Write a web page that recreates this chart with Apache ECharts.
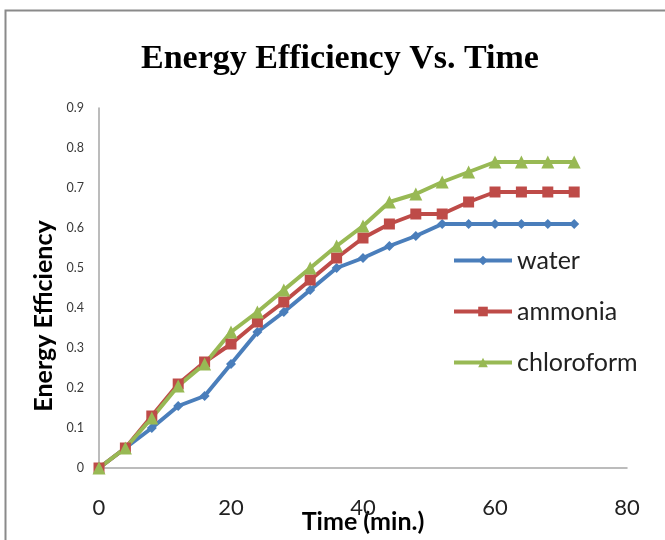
<!DOCTYPE html>
<html>
<head>
<meta charset="utf-8">
<script src="https://cdn.jsdelivr.net/npm/echarts@6/dist/echarts.min.js"></script>
<style>
  html, body { margin: 0; padding: 0; background: #fff; }
  #chart { width: 665px; height: 540px; }
</style>
</head>
<body>
<div id="chart"></div>
<script>
// Sampling times (minutes)
const times = [0, 4, 8, 12, 16, 20, 24, 28, 32, 36, 40, 44, 48, 52, 56, 60, 64, 68, 72];

// Energy efficiency per fluid
const water      = [0, 0.05, 0.10, 0.155, 0.18, 0.26, 0.34, 0.39, 0.445, 0.50, 0.525, 0.555, 0.58, 0.61, 0.61, 0.61, 0.61, 0.61, 0.61];
const ammonia    = [0, 0.05, 0.13, 0.21, 0.265, 0.31, 0.365, 0.415, 0.47, 0.525, 0.575, 0.61, 0.635, 0.635, 0.665, 0.69, 0.69, 0.69, 0.69];
const chloroform = [0, 0.05, 0.125, 0.205, 0.26, 0.34, 0.39, 0.445, 0.50, 0.555, 0.605, 0.665, 0.685, 0.715, 0.74, 0.765, 0.765, 0.765, 0.765];

// Axis tick labels
const xTickLabels = ['0', '20', '40', '60', '80'];
const yTickLabels = ['0', '0.1', '0.2', '0.3', '0.4', '0.5', '0.6', '0.7', '0.8', '0.9'];

const pairs = vals => times.map((t, i) => [t, vals[i]]);

const chart = echarts.init(document.getElementById('chart'), null, { renderer: 'canvas' });

function makeSeries(name, vals, color, symbol, size) {
  return {
    name: name,
    type: 'line',
    data: pairs(vals),
    symbol: symbol,
    symbolSize: size,
    showSymbol: true,
    lineStyle: { color: color, width: 4 },
    itemStyle: { color: color },
    emphasis: { disabled: true },
    animation: false
  };
}

chart.setOption({
  animation: false,
  backgroundColor: '#ffffff',
  graphic: [{
    type: 'rect',
    shape: { x: 5.5, y: 10.5, width: 700, height: 600 },
    style: { fill: 'none', stroke: '#8a8a8a', lineWidth: 2 },
    silent: true,
    z: -1
  }],
  title: {
    text: 'Energy Efficiency Vs. Time',
    left: 136,
    top: 37,
    textStyle: {
      fontFamily: 'Liberation Serif',
      fontWeight: 'bold',
      fontSize: 34,
      color: '#000'
    }
  },
  legend: {
    orient: 'vertical',
    left: 447,
    top: 243,
    itemWidth: 58,
    itemHeight: 12,
    itemGap: 26,
    lineStyle: { width: 4 },
    textStyle: { fontFamily: 'Lato', fontSize: 25, color: '#222', padding: [0, 0, 0, 0] },
    data: ['water', 'ammonia', 'chloroform']
  },
  grid: { left: 99, right: 38, top: 108, bottom: 72, containLabel: false, outerBoundsMode: 'none' },
  xAxis: {
    type: 'value',
    min: 0,
    max: 80,
    interval: 20,
    name: 'Time (min.)',
    nameLocation: 'middle',
    nameGap: 41,
    nameMoveOverlap: false,
    nameTextStyle: { fontFamily: 'Lato', fontWeight: 'bold', fontSize: 25, color: '#000', padding: [0, 0, 0, 0] },
    axisLine: { lineStyle: { color: '#a6a6a6', width: 1.5 } },
    axisTick: { show: false },
    splitLine: { show: false },
    axisLabel: {
      fontFamily: 'Lato',
      fontSize: 22,
      color: '#222',
      margin: 29,
      formatter: v => xTickLabels[Math.round(v / 20)]
    }
  },
  yAxis: {
    type: 'value',
    min: 0,
    max: 0.9,
    interval: 0.1,
    name: 'Energy Efficiency',
    nameLocation: 'middle',
    nameGap: 43,
    nameRotate: 90,
    nameMoveOverlap: false,
    nameTextStyle: { fontFamily: 'Lato', fontWeight: 'bold', fontSize: 25, color: '#000', padding: [0, 56, 0, 0] },
    axisLine: { show: true, lineStyle: { color: '#a6a6a6', width: 1.5 } },
    axisTick: { show: false },
    splitLine: { show: false },
    axisLabel: {
      fontFamily: 'Lato',
      fontSize: 12.5,
      color: '#3a3a3a',
      margin: 15,
      formatter: v => yTickLabels[Math.round(v * 10)]
    }
  },
  series: [
    makeSeries('water', water, '#4a7ebb', 'diamond', 10),
    makeSeries('ammonia', ammonia, '#be4b48', 'rect', 11),
    makeSeries('chloroform', chloroform, '#98b954', 'triangle', 13)
  ]
});
</script>
</body>
</html>
